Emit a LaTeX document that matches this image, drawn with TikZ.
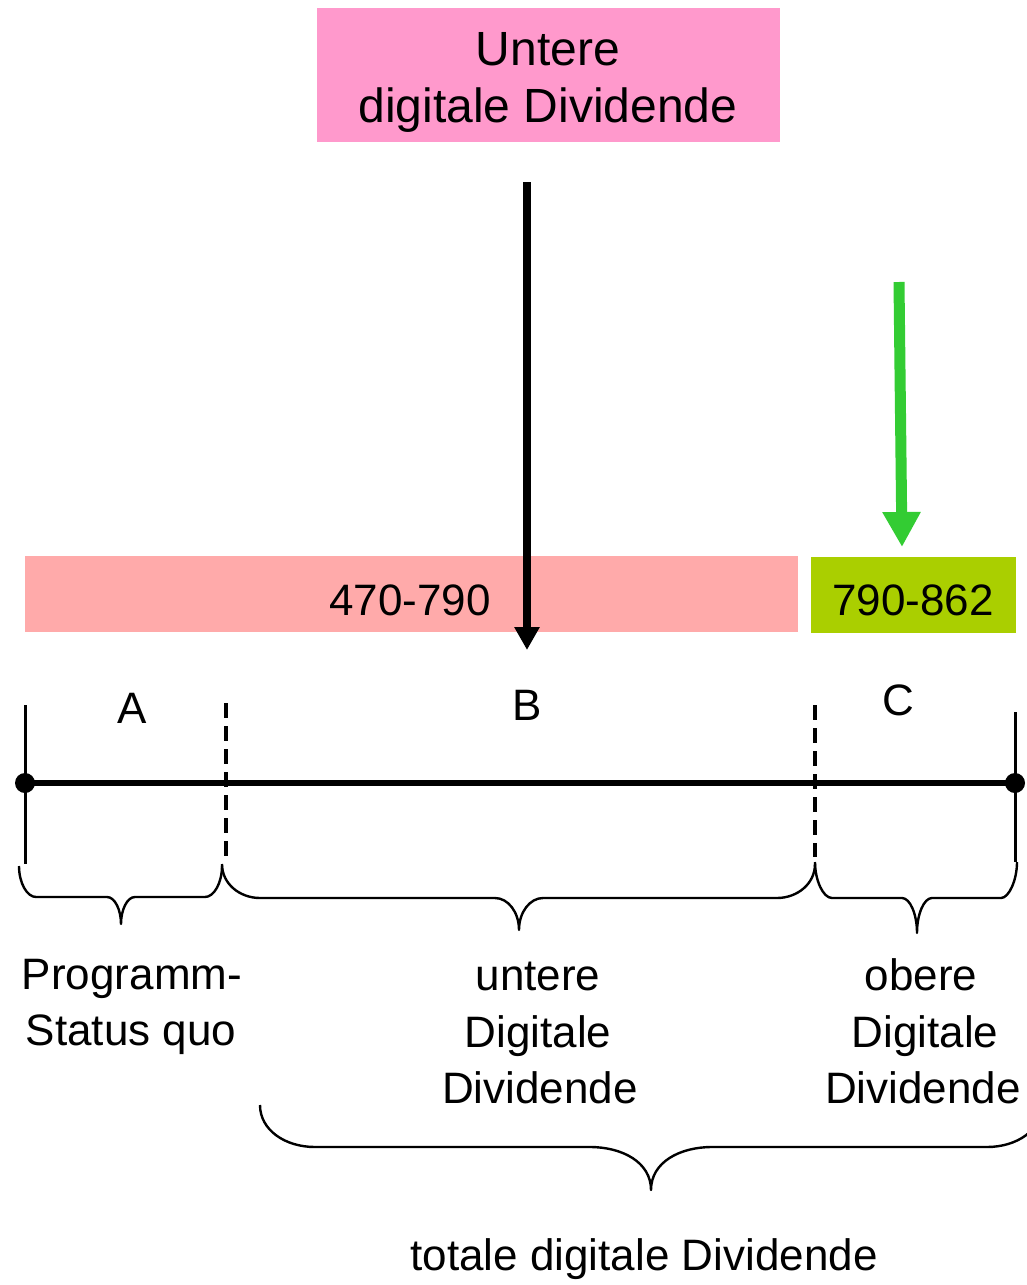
\documentclass[tikz,border=0pt]{standalone}
\usepackage{fontspec}
\setmainfont{Liberation Sans}
\usetikzlibrary{arrows.meta}
\definecolor{boxpink}{HTML}{FF99CC}
\definecolor{barsalmon}{HTML}{FFAAAA}
\definecolor{barlime}{HTML}{AACF00}
\definecolor{arrowgreen}{HTML}{33CC33}
\begin{document}
\begin{tikzpicture}[x=0.5pt,y=-0.5pt,
  headtext/.style={font=\fontsize{24pt}{28pt}\selectfont, anchor=base, inner sep=0pt},
  txt/.style={font=\fontsize{22pt}{26pt}\selectfont, anchor=base, inner sep=0pt},
  band/.style={draw=none, inner sep=0pt, minimum height=38pt},
  enddot/.style={circle, fill=black, inner sep=0pt, minimum size=10pt},
  axisline/.style={line width=3pt},
  tick/.style={line width=1.5pt},
  divider/.style={line width=1.6pt, dash pattern=on 7.5pt off 4pt},
  bracestroke/.style={line width=1.2pt, line join=round},
  droparrow/.style={line width=4pt, -{Triangle[width=12pt,length=11.5pt]}},
  greenarrow/.style={arrowgreen, line width=5.5pt, -{Triangle[width=18pt,length=17.5pt]}}
]
\useasboundingbox (0,0) rectangle (1027,1285);
\clip (0,0) rectangle (1027,1285);

% heading box
\node[fill=boxpink, inner sep=0pt, minimum width=231.5pt, minimum height=67pt] (head) at (548.5,75) {};
\node[headtext] (headA) at (548,65) {Untere};
\node[headtext] (headB) at (548,122) {digitale Dividende};

% frequency bands
\node[band, fill=barsalmon, minimum width=386.5pt] (lowband) at (411.5,594) {};
\node[band, fill=barlime, minimum width=102.5pt] (highband) at (913.5,595) {};
\node[txt] (lowlabel) at (410,615) {470-790};
\node[txt] (highlabel) at (913,615) {790-862};

% arrows
\coordinate (dropTop) at (527,182);
\coordinate (dropTip) at (527,650);
\draw[droparrow] (dropTop) -- (dropTip);
\coordinate (greenTop) at (899,282);
\coordinate (greenTip) at (902,547);
\draw[greenarrow] (greenTop) -- (greenTip);

% section letters
\node[txt] (secA) at (132,723) {A};
\node[txt] (secB) at (527,720) {B};
\node[txt] (secC) at (898,715) {C};

% axis with end ticks and dividers
\draw[tick] (25,705) -- (25,864);
\draw[tick] (1015,712) -- (1015,862);
\draw[divider] (226,703) -- (226,857);
\draw[divider] (815,705) -- (815,857);
\node[enddot] (leftEnd) at (25,783) {};
\node[enddot] (rightEnd) at (1015,783) {};
\draw[axisline] (leftEnd.center) -- (rightEnd.center);

% braces under the axis
\draw[bracestroke] (19,866) .. controls (19,883) and (27,897) .. (36,897) -- (107,897)
  .. controls (115,897) and (121,910) .. (121,924) .. controls (121,910) and (127,897) .. (135,897)
  -- (205,897) .. controls (214,897) and (222,883) .. (222,866);
\draw[bracestroke] (222,864) .. controls (222,884) and (240,898) .. (260,898) -- (495,898)
  .. controls (508,898) and (519,912) .. (519,930) .. controls (519,912) and (530,898) .. (543,898)
  -- (777,898) .. controls (797,898) and (815,884) .. (815,864);
\draw[bracestroke] (815,862) .. controls (815,880) and (823,898) .. (832,898) -- (902,898)
  .. controls (910,898) and (917,914) .. (917,933) .. controls (917,914) and (924,898) .. (932,898)
  -- (1001,898) .. controls (1009,898) and (1017,880) .. (1017,862);

% segment captions
\node[txt] (progA) at (132,989) {Programm-};
\node[txt] (progB) at (131,1045) {Status quo};
\node[txt] (lowA) at (538,990) {untere};
\node[txt] (lowB) at (538,1047) {Digitale};
\node[txt] (lowC) at (540,1103) {Dividende};
\node[txt] (upA) at (921,990) {obere};
\node[txt] (upB) at (925,1047) {Digitale};
\node[txt] (upC) at (923,1103) {Dividende};

% total brace
\draw[bracestroke] (260,1105) .. controls (260,1130) and (285,1147) .. (315,1147) -- (590,1147)
  .. controls (622,1147) and (651,1162) .. (651,1190) .. controls (651,1162) and (680,1147) .. (712,1147)
  -- (987,1147) .. controls (1017,1147) and (1042,1130) .. (1042,1105);
\node[txt] (total) at (644,1270) {totale digitale Dividende};
\end{tikzpicture}
\end{document}
